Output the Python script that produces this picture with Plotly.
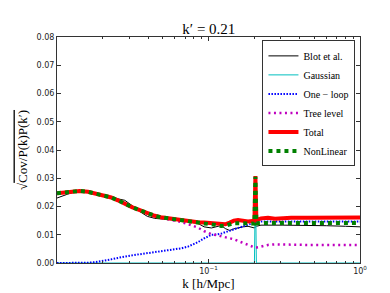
import plotly.graph_objects as go

k = [0.0100, 0.0118, 0.0141, 0.0160, 0.0177, 0.0200, 0.0228, 0.0252, 0.0280, 0.0312,
     0.0352, 0.0395, 0.0442, 0.0485, 0.0541, 0.0600, 0.0661, 0.0732, 0.0853, 0.0935,
     0.1045, 0.1120, 0.1215, 0.1290, 0.1380, 0.1470, 0.1566, 0.1690, 0.1823, 0.1950,
     0.2010, 0.2040, 0.2070, 0.2220, 0.2470, 0.2750, 0.3100, 0.3510, 0.4500, 0.6000,
     0.8000, 1.0000]

blot = [0.0230, 0.0244, 0.0256, 0.0250, 0.0243, 0.0238, 0.0232, 0.0228, 0.0222, 0.0204,
        0.0182, 0.0165, 0.0158, 0.0156, 0.0155, 0.0152, 0.0150, 0.0147, 0.0140, 0.0128,
        0.0124, 0.0128, 0.0133, 0.0122, 0.0115, 0.0121, 0.0125, 0.0128, 0.0130, 0.0126,
        0.0124, 0.0128, 0.0130, 0.0134, 0.0135, 0.0134, 0.0134, 0.0134, 0.0133, 0.0132,
        0.0130, 0.0128]

gaussian = [0.0, 0.0, 0.0, 0.0, 0.0, 0.0, 0.0, 0.0, 0.0, 0.0,
            0.0, 0.0, 0.0, 0.0, 0.0, 0.0, 0.0, 0.0, 0.0, 0.0,
            0.0, 0.0, 0.0, 0.0, 0.0, 0.0, 0.0, 0.0, 0.0, 0.0,
            0.0, 0.0290, 0.0, 0.0, 0.0, 0.0, 0.0, 0.0, 0.0, 0.0,
            0.0, 0.0]

one_loop = [0.0000, 0.0000, 0.0000, 0.0001, 0.0003, 0.0007, 0.0013, 0.0018, 0.0023, 0.0027,
            0.0031, 0.0035, 0.0039, 0.0042, 0.0045, 0.0048, 0.0052, 0.0058, 0.0074, 0.0087,
            0.0100, 0.0101, 0.0104, 0.0109, 0.0114, 0.0119, 0.0125, 0.0131, 0.0136, 0.0141,
            0.0143, 0.0144, 0.0145, 0.0147, 0.0147, 0.0147, 0.0147, 0.0147, 0.0147, 0.0147,
            0.0147, 0.0147]

tree_level = [0.0247, 0.0251, 0.0255, 0.0252, 0.0247, 0.0241, 0.0232, 0.0222, 0.0209, 0.0198,
              0.0187, 0.0176, 0.0165, 0.0160, 0.0155, 0.0150, 0.0145, 0.0138, 0.0125, 0.0113,
              0.0102, 0.0099, 0.0095, 0.0092, 0.0089, 0.0084, 0.0078, 0.0072, 0.0066, 0.0058,
              0.0055, 0.0054, 0.0055, 0.0058, 0.0064, 0.0066, 0.0065, 0.0064, 0.0064, 0.0064,
              0.0064, 0.0064]

total = [0.0247, 0.0251, 0.0255, 0.0252, 0.0247, 0.0241, 0.0232, 0.0222, 0.0209, 0.0198,
         0.0187, 0.0176, 0.0167, 0.0162, 0.0158, 0.0154, 0.0150, 0.0148, 0.0144, 0.0143,
         0.0141, 0.0139, 0.0136, 0.0137, 0.0143, 0.0150, 0.0152, 0.0150, 0.0147, 0.0149,
         0.0150, 0.0308, 0.0152, 0.0158, 0.0160, 0.0157, 0.0159, 0.0160, 0.0160, 0.0160,
         0.0161, 0.0161]

nonlinear = [0.0247, 0.0251, 0.0255, 0.0252, 0.0247, 0.0241, 0.0232, 0.0222, 0.0209, 0.0198,
             0.0187, 0.0176, 0.0167, 0.0162, 0.0158, 0.0154, 0.0150, 0.0147, 0.0143, 0.0140,
             0.0137, 0.0134, 0.0131, 0.0132, 0.0137, 0.0141, 0.0141, 0.0140, 0.0138, 0.0138,
             0.0139, 0.0305, 0.0141, 0.0141, 0.0143, 0.0142, 0.0142, 0.0142, 0.0142, 0.0142,
             0.0142, 0.0142]

x_tickvals = [0.1, 1.0]
x_ticktext = ["10<sup>−1</sup>", "10<sup>0</sup>"]

serif = "Liberation Serif"

fig = go.Figure()
fig.add_trace(go.Scatter(x=k, y=blot, mode="lines", name="Blot et al.",
                         line=dict(color="black", width=1)))
fig.add_trace(go.Scatter(x=k, y=gaussian, mode="lines", name="Gaussian",
                         line=dict(color="#00BFBF", width=1)))
fig.add_trace(go.Scatter(x=k, y=one_loop, mode="lines", name="One − loop",
                         line=dict(color="blue", width=2, dash="1.5px,1.5px")))
fig.add_trace(go.Scatter(x=k, y=tree_level, mode="lines", name="Tree level",
                         line=dict(color="#BF00BF", width=2.5, dash="2px,3.5px")))
fig.add_trace(go.Scatter(x=k, y=total, mode="lines", name="Total",
                         line=dict(color="red", width=4)))
fig.add_trace(go.Scatter(x=k, y=nonlinear, mode="lines", name="NonLinear",
                         line=dict(color="green", width=4, dash="4px,4px")))

axis_common = dict(showline=True, linecolor="#333333", linewidth=1, mirror="ticks",
                   ticks="inside", ticklen=4, tickcolor="#333333", showgrid=False,
                   zeroline=False, tickfont=dict(family="DejaVu Sans", size=8, color="#222"))

fig.update_xaxes(type="log", range=[-2, 0], tickvals=x_tickvals, ticktext=x_ticktext,
                 minor=dict(ticks="inside", ticklen=2, dtick="D1", tickcolor="#333333"),
                 title=dict(text="k [h/Mpc]", font=dict(family=serif, size=13, color="black"),
                            standoff=4),
                 **axis_common)
fig.update_yaxes(range=[0, 0.08], dtick=0.01, tickformat=".2f",
                 title=dict(text="√<span style='text-decoration:overline'>Cov/P(k)P(k′)</span>",
                            font=dict(family=serif, size=13, color="black"), standoff=6),
                 **axis_common)

fig.update_layout(
    width=390, height=293,
    margin=dict(l=49, r=38, t=29, b=30),
    paper_bgcolor="white", plot_bgcolor="white",
    title=dict(text="k′ = 0.21", x=0.515, xanchor="center", y=0.93, yanchor="middle",
               font=dict(family=serif, size=15, color="black")),
    legend=dict(x=0.985, xanchor="right", y=0.985, yanchor="top",
                bordercolor="#333333", borderwidth=1, bgcolor="white",
                font=dict(family=serif, size=10, color="black"),
                itemwidth=30, tracegroupgap=0),
    showlegend=True,
)

fig.write_html("out.html")
